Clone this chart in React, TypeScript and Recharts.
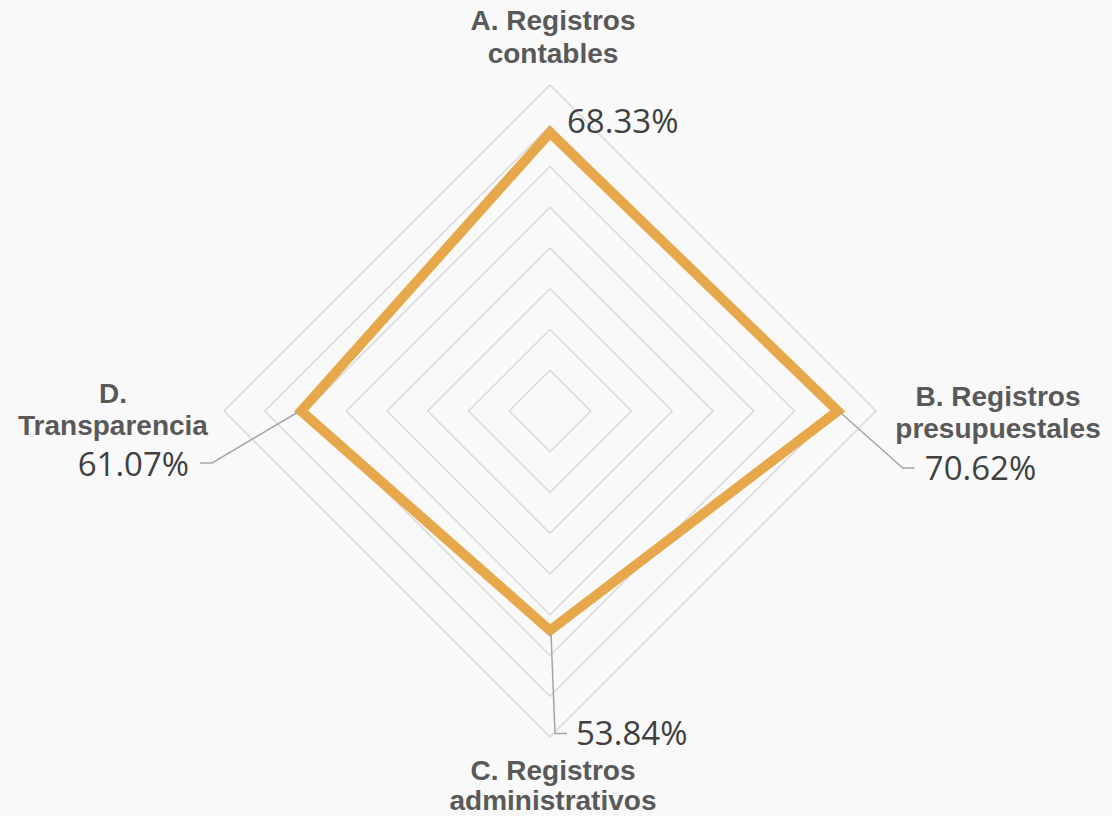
import { RadarChart, Radar, PolarGrid, PolarAngleAxis, PolarRadiusAxis, LabelList } from "recharts";

const categories = ["A. Registros contables", "B. Registros presupuestales", "C. Registros administrativos", "D. Transparencia"];
const categoryLines = [
  ["A. Registros", "contables"],
  ["B. Registros", "presupuestales"],
  ["C. Registros", "administrativos"],
  ["D.", "Transparencia"],
];
const values = [68.33, 70.62, 53.84, 61.07];
const ringTicks = [0, 10, 20, 30, 40, 50, 60, 70, 80];

const data = categories.map((name, i) => ({ name, value: values[i] }));

const CX = 550;
const CY = 411;

// label placement around the tick, by side
const tickOffsets: Record<string, { dx: number; dys: number[] }> = {
  top: { dx: 3, dys: [-57, -24] },
  right: { dx: 114, dys: [-15, 17] },
  bottom: { dx: 3, dys: [25, 55] },
  left: { dx: -103, dys: [-18, 14] },
};

function sideOf(x: number, y: number) {
  const ddx = x - CX;
  const ddy = y - CY;
  if (Math.abs(ddx) > Math.abs(ddy)) return ddx > 0 ? "right" : "left";
  return ddy < 0 ? "top" : "bottom";
}

function CategoryTick(props: any) {
  const { x, y, index } = props;
  const side = sideOf(x, y);
  const o = tickOffsets[side];
  const lines = categoryLines[index] || [String(props.payload?.value)];
  return (
    <g>
      {lines.map((t, i) => (
        <text
          key={i}
          x={x + o.dx}
          y={y + o.dys[i]}
          textAnchor="middle"
          dominantBaseline="central"
          fill="#595959"
          fontFamily="'Liberation Sans', Arial, sans-serif"
          fontWeight="bold"
          fontSize={28}
        >
          {t}
        </text>
      ))}
    </g>
  );
}

function ValueLabel(props: any) {
  const { x, y, value } = props;
  const side = sideOf(x, y);
  const txt = `${Number(value).toFixed(2)}%`;
  const common = {
    fill: "#404040",
    fontFamily: "'Open Sans', 'Noto Sans', sans-serif",
    fontSize: 33,
    dominantBaseline: "central" as const,
  };
  const lineStyle = { stroke: "#a6a6a6", strokeWidth: 1.5, fill: "none" };
  if (side === "top") {
    return <text x={x + 17} y={y - 12} textAnchor="start" {...common}>{txt}</text>;
  }
  if (side === "right") {
    return (
      <g>
        <polyline points={`${x + 2},${y + 1} ${x + 65},${y + 57} ${x + 77},${y + 57}`} {...lineStyle} />
        <text x={x + 87} y={y + 56} textAnchor="start" {...common}>{txt}</text>
      </g>
    );
  }
  if (side === "bottom") {
    return (
      <g>
        <polyline points={`${x + 1},${y + 3} ${x + 5},${y + 103} ${x + 17},${y + 103}`} {...lineStyle} />
        <text x={x + 26} y={y + 102} textAnchor="start" {...common}>{txt}</text>
      </g>
    );
  }
  return (
    <g>
      <polyline points={`${x - 3},${y + 1} ${x - 89},${y + 52} ${x - 101},${y + 52}`} {...lineStyle} />
      <text x={x - 112} y={y + 52} textAnchor="end" {...common}>{txt}</text>
    </g>
  );
}

export default function App() {
  return (
    <div style={{ position: "absolute", left: 0, top: 0, width: 1112, height: 816, background: "#f9f9f9" }}>
      <RadarChart width={1112} height={816} data={data} cx={CX} cy={CY} outerRadius={326} startAngle={90} endAngle={-270}>
        <PolarGrid gridType="polygon" radialLines={false} stroke="#d9d9d9" strokeWidth={1.5} />
        <PolarAngleAxis dataKey="name" tick={<CategoryTick />} tickLine={false} axisLine={false} />
        <PolarRadiusAxis domain={[0, 80]} ticks={ringTicks} tick={false} axisLine={false} />
        <Radar
          dataKey="value"
          stroke="#E7A84C"
          strokeWidth={10}
          strokeLinejoin="miter"
          fill="none"
          fillOpacity={0}
          dot={false}
          isAnimationActive={false}
        >
          <LabelList dataKey="value" content={<ValueLabel />} />
        </Radar>
      </RadarChart>
    </div>
  );
}
